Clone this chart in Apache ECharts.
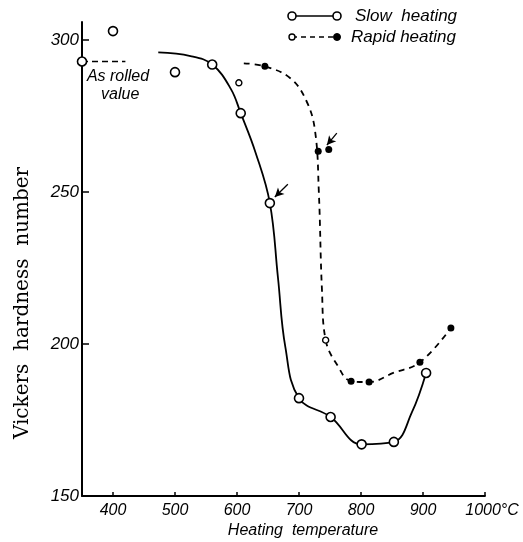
<!DOCTYPE html>
<html><head><meta charset="utf-8">
<script src="https://cdn.jsdelivr.net/npm/echarts@6/dist/echarts.min.js"></script>
<style>html,body{margin:0;padding:0;background:#fff}#c{width:523px;height:542px}</style>
</head><body><div id="c"></div>
<script>
// ---- data ----
const xTickLabels = [400, 500, 600, 700, 800, 900, 1000];
const yTickLabels = [150, 200, 250, 300];
const yTickMarks = [200, 250, 300];
// Slow heating: open circles on the curve
const slowPoints = [[560, 292], [606, 276], [653, 246.4], [700, 182.2], [751, 176], [801, 167], [853, 167.8], [905, 190.5]];
// Slow heating: open circles off the curve
const slowExtraPoints = [[400, 303], [500, 289.5]];
// As rolled value
const asRolled = [[350, 293]];
const asRolledLine = [[350, 293], [420, 293]];
// Slow heating curve (drawn curve traced)
const slowCurve = [[473, 296], [525, 294.8], [560, 292], [590, 284], [606, 276], [630, 263], [653, 246.4], [666, 222], [678, 199], [700, 182.2], [751, 176], [801, 167], [853, 167.8], [882, 177.5], [905, 190.5]];
// Rapid heating: filled dots
const rapidFilled = [[645, 291.4], [731, 263.5], [748, 264], [784, 187.8], [813, 187.5], [895, 194], [945, 205.3]];
// Rapid heating: small open circles
const rapidOpen = [[603, 286], [743, 201.3]];
// Rapid heating curve (dashed, traced)
const rapidCurve = [[611, 292.4], [645, 291.4], [686, 287.5], [712, 280], [726, 270], [732, 250], [737, 218], [743, 201.3], [762, 193], [784, 187.8], [813, 187.5], [852, 190.5], [895, 194], [945, 205.3]];
// Arrows [from, to]
const arrows = [[[682, 252.6], [661, 248.4]], [[761, 269.4], [745, 265.5]]];

const chart = echarts.init(document.getElementById('c'), null, {renderer: 'canvas'});
const labelFont = {fontFamily: 'Liberation Sans', fontStyle: 'italic', fontSize: 16, color: '#000'};
const openStyle = {color: '#fff', borderColor: '#000', borderWidth: 1.6, opacity: 1};

chart.setOption({
  animation: false,
  backgroundColor: '#fff',
  grid: {left: 82, right: 38, top: 22, bottom: 46},
  xAxis: {
    type: 'value', min: 350, max: 1000,
    axisLine: {show: true, lineStyle: {color: '#000', width: 1.8}},
    axisTick: {show: true, inside: true, length: 4, customValues: xTickLabels, lineStyle: {color: '#000', width: 1.5}},
    axisLabel: Object.assign({customValues: xTickLabels, margin: 7,
      formatter: v => v === 1000 ? '{p|}1000°C' : String(v),
      rich: {p: {width: 14}}}, labelFont),
    splitLine: {show: false}
  },
  yAxis: {
    type: 'value', min: 150, max: 306,
    axisLine: {show: true, lineStyle: {color: '#000', width: 2}},
    axisTick: {show: true, inside: true, length: 7, customValues: yTickMarks, lineStyle: {color: '#000', width: 1.5}},
    axisLabel: Object.assign({customValues: yTickLabels, margin: 3}, labelFont, {fontSize: 17}),
    splitLine: {show: false}
  },
  series: [
    {type: 'line', data: slowCurve, smooth: 0.4, showSymbol: false, symbol: 'none',
     lineStyle: {color: '#000', width: 1.8}, z: 2,
     markLine: {silent: true, symbol: ['none', 'arrow'], symbolSize: [7, 9], label: {show: false},
       lineStyle: {color: '#000', width: 1.3, type: 'solid'},
       data: arrows.map(a => [{coord: a[0]}, {coord: a[1]}])}},
    {type: 'line', data: rapidCurve, smooth: 0.4, showSymbol: false, symbol: 'none',
     lineStyle: {color: '#000', width: 1.8, type: [6, 5]}, z: 2},
    {type: 'line', data: asRolledLine, showSymbol: false, symbol: 'none',
     lineStyle: {color: '#000', width: 1.6, type: [6, 4]}, z: 2},
    {type: 'scatter', data: slowPoints.concat(slowExtraPoints).concat(asRolled), symbol: 'circle', symbolSize: 9,
     itemStyle: openStyle, z: 5},
    {type: 'scatter', data: rapidOpen, symbol: 'circle', symbolSize: 6,
     itemStyle: {color: '#fff', borderColor: '#000', borderWidth: 1.4, opacity: 1}, z: 5},
    {type: 'scatter', data: rapidFilled, symbol: 'circle', symbolSize: 7,
     itemStyle: {color: '#000', opacity: 1}, z: 5}
  ]
});

const p = chart.convertToPixel({gridIndex: 0}, asRolled[0]);
const italic = 'italic 16px "Liberation Sans"';
chart.setOption({
  graphic: [
    // y axis title
    {type: 'text', x: 23, y: 303, rotation: Math.PI / 2, style: {text: 'Vickers  hardness  number', font: '20px "DejaVu Serif"', fill: '#000', align: 'center', verticalAlign: 'middle'}},
    // x axis title
    {type: 'text', x: 303, y: 531, style: {text: 'Heating  temperature', font: italic, fill: '#000', align: 'center', verticalAlign: 'middle'}},
    // as rolled label
    {type: 'text', x: p[0] + 36, y: p[1] + 24, style: {text: 'As rolled\n value', font: italic, lineHeight: 18, fill: '#000', align: 'center', verticalAlign: 'middle'}},
    // legend: slow heating
    {type: 'line', shape: {x1: 292, y1: 16, x2: 337, y2: 16}, style: {stroke: '#000', lineWidth: 1.6}},
    {type: 'circle', shape: {cx: 292, cy: 16, r: 4}, style: {fill: '#fff', stroke: '#000', lineWidth: 1.6}},
    {type: 'circle', shape: {cx: 337, cy: 16, r: 4}, style: {fill: '#fff', stroke: '#000', lineWidth: 1.6}},
    {type: 'text', x: 355, y: 16, style: {text: 'Slow  heating', font: 'italic 17px "Liberation Sans"', fill: '#000', verticalAlign: 'middle'}},
    // legend: rapid heating
    {type: 'line', shape: {x1: 292, y1: 37, x2: 337, y2: 37}, style: {stroke: '#000', lineWidth: 1.6, lineDash: [5, 4]}},
    {type: 'circle', shape: {cx: 292, cy: 37, r: 3}, style: {fill: '#fff', stroke: '#000', lineWidth: 1.4}},
    {type: 'circle', shape: {cx: 337, cy: 37, r: 3.5}, style: {fill: '#000', stroke: '#000', lineWidth: 1}},
    {type: 'text', x: 351, y: 37, style: {text: 'Rapid heating', font: 'italic 17px "Liberation Sans"', fill: '#000', verticalAlign: 'middle'}}
  ]
});
</script>
</body></html>
